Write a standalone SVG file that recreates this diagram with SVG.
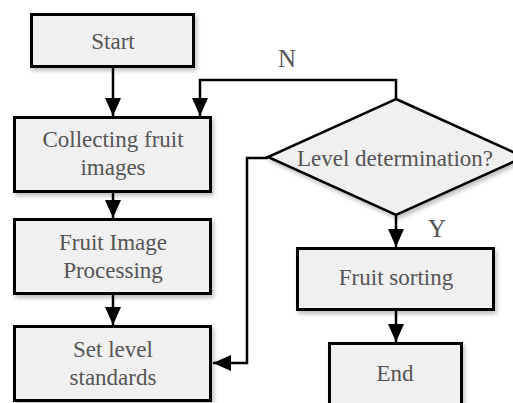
<svg xmlns="http://www.w3.org/2000/svg" width="513" height="403" viewBox="0 0 513 403">
<defs>
<filter id="sh" x="-10%" y="-10%" width="130%" height="140%">
<feDropShadow dx="2" dy="3" stdDeviation="2" flood-color="#000" flood-opacity="0.25"/>
</filter>
<marker id="ah" markerUnits="userSpaceOnUse" markerWidth="18" markerHeight="16" viewBox="0 0 18 16" refX="18" refY="8" orient="auto">
<path d="M0,0 L18,8 L0,16 Z" fill="#000"/>
</marker>
<style>
.box{fill:#f0f0f0;stroke:#000;stroke-width:3;filter:url(#sh)}
.dia{fill:#f0f0f0;stroke:#000;stroke-width:2.5;filter:url(#sh)}
.t{font-size:23px;fill:#555;text-anchor:middle}
.lbl{font-size:25px;fill:#555;text-anchor:middle}
.c{fill:none;stroke:#000;stroke-width:2.5}
</style>
</defs>
<rect width="513" height="403" fill="#fff"/>
<g id="connectors" font-family="Liberation Serif, Times New Roman, DejaVu Serif, serif">
<path class="c" d="M113,68 V116" marker-end="url(#ah)"/>
<path class="c" d="M113,193 V218" marker-end="url(#ah)"/>
<path class="c" d="M113,295 V325" marker-end="url(#ah)"/>
<path class="c" d="M396,99 V80 H200 V116" marker-end="url(#ah)"/>
<path class="c" d="M268,158 H247 V363 H213" marker-end="url(#ah)"/>
<path class="c" d="M396,215 V247" marker-end="url(#ah)"/>
<path class="c" d="M396,311 V342" marker-end="url(#ah)"/>
<text class="lbl" x="287" y="67">N</text>
<text class="lbl" x="437" y="237">Y</text>
</g>
<g id="nodes" font-family="Liberation Serif, Times New Roman, DejaVu Serif, serif">
<g id="start">
<rect class="box" x="31.5" y="14.5" width="162" height="52"/>
<text class="t" x="113" y="49">Start</text>
</g>
<g id="collect">
<rect class="box" x="14.5" y="117.5" width="196" height="74"/>
<text class="t" x="113" y="147">Collecting fruit</text>
<text class="t" x="113" y="175">images</text>
</g>
<g id="process">
<rect class="box" x="14.5" y="219.5" width="196" height="74"/>
<text class="t" x="113" y="250">Fruit Image</text>
<text class="t" x="113" y="278">Processing</text>
</g>
<g id="standards">
<rect class="box" x="14.5" y="326.5" width="196" height="74"/>
<text class="t" x="113" y="357">Set level</text>
<text class="t" x="113" y="385">standards</text>
</g>
<g id="decision">
<polygon class="dia" points="396,99 524,157 396,215 268,157"/>
<text class="t" x="395" y="166">Level determination?</text>
</g>
<g id="sorting">
<rect class="box" x="297.5" y="248.5" width="196" height="61"/>
<text class="t" x="396" y="285">Fruit sorting</text>
</g>
<g id="end">
<rect class="box" x="329.5" y="343.5" width="132" height="72"/>
<text class="t" x="395" y="381">End</text>
</g>
</g>
</svg>
